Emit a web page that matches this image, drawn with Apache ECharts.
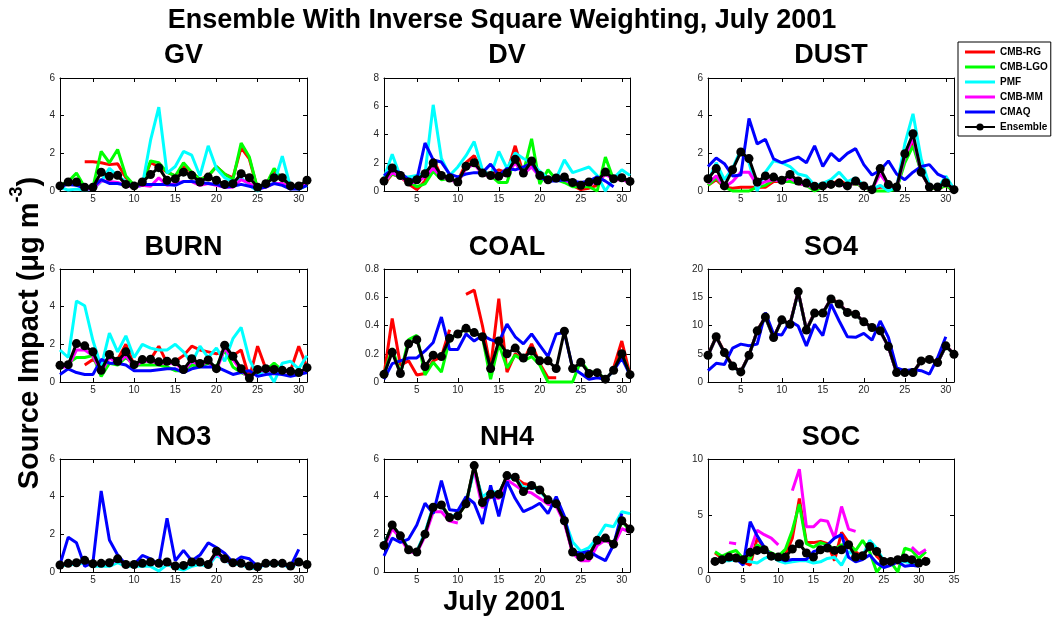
<!DOCTYPE html>
<html><head><meta charset="utf-8">
<script src="https://cdn.jsdelivr.net/npm/echarts@6/dist/echarts.min.js"></script>
<style>html,body{margin:0;padding:0;background:#fff}#c{width:1052px;height:617px}</style>
</head><body><div id="c"></div>
<script>
const FONT = '"Liberation Sans", Arial, Helvetica, sans-serif';
const days = [1,2,3,4,5,6,7,8,9,10,11,12,13,14,15,16,17,18,19,20,21,22,23,24,25,26,27,28,29,30,31];
const dayTicks = [5,10,15,20,25,30];

// ---- GV ----
const GV_RG   = [null,null,null,1.55,1.55,1.5,1.4,1.45,0.7,0.3,0.4,1.5,1.3,1.0,0.8,1.3,1.0,0.6,0.8,1.3,0.9,0.7,2.3,1.7,0.1,0.3,1.1,0.6,0.3,0.2,0.4];
const GV_LGO  = [0.3,0.5,0.95,0.2,0.2,2.1,1.5,2.2,0.8,0.3,0.4,1.6,1.5,1.0,0.8,1.5,1.0,0.6,0.8,1.3,0.9,0.6,2.55,1.8,0.1,0.3,1.2,0.6,0.3,0.2,0.4];
const GV_PMF  = [0.2,0.05,0.1,0.05,0.1,0.5,1.2,0.8,0.5,0.2,0.3,2.7,4.45,0.95,1.3,2.1,1.9,0.8,2.4,1.2,0.7,0.5,0.7,0.3,0.0,0.3,0.4,1.85,0.2,0.1,0.3];
const GV_MM   = [0.2,0.4,0.4,0.1,0.1,0.55,0.5,0.45,0.3,0.2,0.3,0.25,0.7,0.3,0.4,0.5,0.5,0.3,0.4,0.3,0.2,0.2,0.6,0.4,0.1,0.2,0.4,0.4,0.2,0.2,0.4];
const GV_CMAQ = [0.25,0.35,0.3,0.15,0.2,0.6,0.4,0.4,0.3,0.25,0.35,0.35,0.35,0.35,0.3,0.5,0.5,0.45,0.4,0.35,0.2,0.25,0.35,0.25,0.15,0.2,0.4,0.3,0.1,0.1,0.3];
const GV_ENS  = [0.27,0.48,0.48,0.2,0.2,1.0,0.78,0.83,0.35,0.27,0.48,0.87,1.24,0.57,0.65,1.0,0.83,0.48,0.74,0.57,0.35,0.39,0.92,0.71,0.2,0.39,0.71,0.71,0.27,0.27,0.57];

// ---- DV ----
const DV_RG   = [0.5,1.2,1.0,0.5,0.1,0.7,2.3,1.0,0.8,0.7,2.0,2.5,1.4,1.2,1.5,1.3,3.2,1.2,2.0,1.0,0.7,0.8,0.8,0.4,0.1,0.2,0.4,1.3,0.8,0.9,0.6];
const DV_LGO  = [0.6,1.2,1.0,0.7,0.3,0.5,1.4,0.8,0.9,0.6,1.6,2.2,1.1,1.1,0.6,0.6,2.4,1.3,3.7,0.5,1.5,0.8,0.6,0.3,0.3,0.3,0.0,2.4,0.8,0.9,0.6];
const DV_PMF  = [0.9,2.6,1.0,1.0,1.1,1.2,6.1,2.3,1.1,1.7,2.5,3.5,1.5,1.1,2.8,1.6,2.7,2.3,2.0,1.4,0.9,0.9,2.2,1.3,1.5,1.7,1.1,0.0,0.9,1.5,1.1];
const DV_MM   = [0.6,1.3,1.0,0.6,0.6,1.0,1.6,1.0,0.8,0.6,1.6,1.9,1.2,1.0,1.0,1.2,2.0,1.2,1.7,1.0,0.7,0.8,0.8,0.5,0.4,0.5,0.6,1.2,0.8,0.8,0.6];
const DV_CMAQ = [1.1,1.5,1.3,0.8,0.8,3.4,2.2,2.05,1.2,1.0,1.2,1.3,1.3,1.9,1.1,1.6,1.5,1.7,2.0,1.0,0.7,0.7,0.8,0.7,0.6,0.7,1.0,0.7,0.3,null,null];
const DV_ENS  = [0.7,1.63,1.1,0.64,0.8,1.23,1.98,1.1,0.92,0.64,1.75,2.0,1.27,1.1,1.04,1.27,2.24,1.27,2.12,1.1,0.8,0.92,0.99,0.6,0.4,0.64,0.7,1.34,0.87,0.94,0.68];

// ---- DUST ----
const DUST_RG   = [0.3,0.6,0.2,0.15,0.2,0.2,0.2,0.2,0.5,0.5,0.6,0.4,0.3,0.1,0.2,0.3,0.6,0.3,0.4,0.2,0.1,0.2,0.2,0.1,1.7,2.6,1.0,0.2,0.1,0.3,0.0];
const DUST_LGO  = [0.3,0.7,0.2,0.0,0.0,0.0,0.2,0.3,0.6,0.5,0.5,0.4,0.3,0.0,0.2,0.3,0.4,0.3,0.4,0.2,0.0,0.0,0.0,0.1,1.5,2.4,1.0,0.2,0.1,0.3,0.0];
const DUST_PMF  = [0.5,1.5,0.6,1.2,2.2,1.5,0.0,1.0,1.6,1.5,1.3,0.9,0.8,0.3,0.4,0.6,1.0,0.5,0.7,0.3,0.1,0.3,0.0,0.2,2.5,4.1,1.7,0.3,0.1,0.8,0.1];
const DUST_MM   = [0.4,0.8,0.2,0.5,1.0,1.0,0.3,0.5,0.6,0.5,0.7,0.4,0.3,0.2,0.2,0.3,0.4,0.2,0.5,0.2,0.1,0.9,0.3,0.2,1.8,2.8,1.0,0.2,0.2,0.4,0.1];
const DUST_CMAQ = [1.3,1.75,1.45,0.8,0.85,3.85,2.5,2.75,1.7,1.5,1.65,1.8,1.5,2.4,1.3,2.0,1.6,2.0,2.25,1.4,0.85,1.1,1.6,0.9,0.6,1.0,1.3,1.4,0.9,0.7,null];
const DUST_ENS  = [0.65,1.19,0.27,1.13,2.07,1.72,0.48,0.8,0.74,0.57,0.88,0.53,0.42,0.25,0.27,0.35,0.42,0.27,0.53,0.27,0.07,1.19,0.34,0.21,1.98,3.04,1.0,0.21,0.21,0.44,0.07];

// ---- BURN ----
const BURN_RG   = [null,null,null,0.9,1.2,0.8,1.3,1.2,2.0,0.9,1.2,1.2,1.9,1.0,1.1,1.4,1.9,1.7,1.6,1.5,1.6,1.4,1.7,0.2,1.9,0.7,0.8,0.6,0.6,1.9,0.8];
const BURN_LGO  = [0.7,1.0,1.3,1.3,1.4,0.3,1.0,0.9,1.3,0.9,0.9,0.9,0.9,0.8,0.6,0.6,0.9,0.8,1.0,0.8,1.7,0.8,0.5,0.3,0.5,0.6,1.0,0.6,0.6,0.5,0.5];
const BURN_PMF  = [1.7,1.3,4.3,4.05,2.2,0.8,2.6,1.6,2.45,1.3,2.0,1.8,1.7,1.7,2.0,1.6,1.0,1.9,1.3,1.8,1.1,2.3,2.9,1.2,0.3,0.7,0.0,1.0,1.1,0.7,1.4];
const BURN_MM   = [0.8,0.8,1.7,1.7,1.4,0.5,1.3,1.0,1.4,0.8,1.1,1.1,1.0,1.0,1.0,0.6,1.1,0.9,1.1,0.6,1.8,1.2,0.6,0.2,0.6,0.6,0.6,0.6,0.5,0.5,0.7];
const BURN_CMAQ = [0.4,0.7,0.5,0.4,0.4,1.2,1.0,1.0,0.9,0.6,0.6,0.6,0.65,0.7,0.7,0.5,0.7,0.8,0.8,0.8,0.6,0.4,0.5,0.6,0.3,0.4,0.45,0.4,0.3,0.4,0.5];
const BURN_ENS  = [0.89,0.92,2.04,1.92,1.6,0.62,1.46,1.1,1.6,0.92,1.19,1.21,1.07,1.1,1.07,0.66,1.24,0.98,1.17,0.71,1.95,1.37,0.71,0.21,0.67,0.71,0.67,0.62,0.57,0.5,0.76];

// ---- COAL ----
const COAL_RG   = [0.05,0.45,0.12,0.15,0.05,0.06,0.15,0.18,0.37,null,0.62,0.65,0.4,0.1,0.59,0.07,0.2,0.15,0.27,0.13,0.03,0.03,null,null,null,null,null,null,0.1,0.29,0.05];
const COAL_LGO  = [0.05,0.24,0.06,0.3,0.33,0.05,0.14,0.07,0.3,0.35,0.37,0.35,0.32,0.02,0.27,0.1,0.19,0.15,0.18,0.12,0.0,0.0,0.0,0.0,0.15,0.07,0.07,0.02,0.08,0.2,0.05];
const COAL_CMAQ = [0.02,0.13,0.15,0.17,0.17,0.22,0.28,0.46,0.23,0.23,0.34,0.29,0.33,0.3,0.28,0.41,0.32,0.27,0.34,0.26,0.18,0.34,0.35,0.1,0.06,0.02,0.03,0.02,0.08,0.17,0.05];
const COAL_ENS  = [0.054,0.21,0.06,0.27,0.3,0.11,0.19,0.18,0.31,0.34,0.38,0.35,0.32,0.095,0.29,0.2,0.24,0.17,0.22,0.15,0.15,0.095,0.36,0.095,0.14,0.06,0.066,0.02,0.083,0.2,0.052];

// ---- SO4 ----
const SO4_RG   = [4.8,8.1,5.3,2.9,1.8,4.8,9.1,11.6,7.9,11.0,10.3,16.0,9.3,12.3,12.2,14.8,13.9,12.4,12.0,10.7,9.6,9.1,6.3,1.7,1.7,1.7,3.8,4.0,3.5,6.5,5.0];
const SO4_LGO  = [4.7,7.9,5.2,2.8,1.8,4.7,9.0,11.4,7.8,10.9,10.2,15.9,9.2,12.1,12.1,14.6,13.7,12.2,11.9,10.6,9.6,9.0,6.2,1.6,1.6,1.6,3.7,3.9,3.4,6.3,4.9];
const SO4_PMF  = [4.7,8.0,5.1,2.8,1.7,4.7,9.0,11.5,7.9,11.0,10.2,15.9,9.2,12.2,12.2,14.7,13.8,12.3,12.0,10.6,9.6,9.0,6.3,1.7,1.6,1.7,3.7,4.0,3.4,6.4,4.9];
const SO4_MM   = [4.7,7.9,5.2,2.8,1.8,4.7,9.0,11.5,7.9,11.0,10.2,16.0,9.2,12.2,12.2,14.7,13.8,12.3,12.0,10.6,9.6,9.0,6.2,1.6,1.7,1.6,3.7,4.0,3.4,6.4,4.9];
const SO4_CMAQ = [2.0,3.3,3.1,6.0,6.7,6.4,6.7,12.3,8.5,8.3,10.8,9.9,6.4,10.2,8.2,13.8,10.8,8.0,7.9,8.6,7.4,10.8,7.9,2.5,2.0,2.2,2.0,1.4,4.3,8.0,null];
const SO4_ENS  = [4.73,8.0,5.2,2.84,1.78,4.73,9.05,11.5,7.87,11.0,10.2,16.0,9.2,12.2,12.2,14.7,13.8,12.3,12.0,10.65,9.64,9.05,6.27,1.66,1.66,1.66,3.73,4.0,3.43,6.4,4.9];

// ---- NO3 ----
const NO3_RG   = [0.35,0.45,0.5,0.6,0.45,0.45,0.5,0.7,0.4,0.4,0.45,0.5,0.45,0.5,0.3,0.35,0.55,0.5,0.4,1.1,0.7,0.5,0.45,0.3,0.3,0.45,0.45,0.45,0.3,0.5,0.4];
const NO3_LGO  = [0.35,0.45,0.5,0.6,0.45,0.45,0.5,0.65,0.4,0.4,0.45,0.5,0.45,0.5,0.3,0.35,0.5,0.5,0.4,1.05,0.7,0.5,0.45,0.3,0.3,0.45,0.45,0.45,0.3,0.5,0.4];
const NO3_PMF  = [0.3,0.4,0.4,0.5,0.3,0.3,0.3,0.5,0.3,0.3,0.3,0.3,0.05,0.4,0.2,0.1,0.3,0.4,0.3,0.9,0.6,0.4,0.4,0.2,0.2,0.4,0.4,0.4,0.2,0.5,0.4];
const NO3_MM   = [0.35,0.45,0.45,0.6,0.4,0.45,0.45,0.65,0.4,0.4,0.45,0.5,0.4,0.5,0.3,0.3,0.5,0.5,0.4,1.0,0.65,0.45,0.45,0.3,0.25,0.45,0.45,0.45,0.3,0.5,0.4];
const NO3_CMAQ = [0.4,1.85,1.55,0.3,0.5,4.3,1.7,0.9,0.4,0.4,0.88,0.7,0.4,2.85,0.6,1.15,0.6,0.9,1.55,1.3,1.0,0.5,0.8,0.7,0.3,0.4,0.55,0.4,0.3,1.2,null];
const NO3_ENS  = [0.37,0.46,0.49,0.62,0.44,0.46,0.49,0.7,0.4,0.4,0.46,0.53,0.46,0.53,0.32,0.35,0.53,0.53,0.4,1.1,0.7,0.49,0.46,0.32,0.28,0.46,0.46,0.46,0.32,0.53,0.4];

// ---- NH4 ----
const NH4_RG   = [1.4,2.5,1.9,1.2,1.1,2.0,3.4,3.6,2.9,3.0,3.6,5.6,3.8,4.1,4.1,5.1,5.0,4.7,4.6,4.4,3.8,3.6,2.7,1.0,0.8,0.9,1.7,1.8,1.5,2.7,2.3];
const NH4_LGO  = [1.4,2.5,1.9,1.2,1.1,2.0,3.4,3.6,2.9,3.0,3.6,5.6,3.7,4.1,4.1,5.1,5.0,4.3,4.6,4.4,3.8,3.6,2.7,1.1,0.8,0.9,1.7,1.8,1.5,2.7,2.2];
const NH4_PMF  = [1.5,2.4,2.0,1.2,1.1,2.1,3.5,3.5,2.9,3.1,3.7,5.4,4.0,4.3,4.2,5.0,5.0,4.5,4.5,4.3,3.8,3.6,2.8,1.6,1.1,1.3,1.8,2.5,2.4,3.2,3.1];
const NH4_MM   = [1.3,2.3,1.8,1.1,1.0,1.9,3.2,3.2,2.7,2.6,null,5.4,3.4,4.0,3.9,4.9,4.6,4.3,4.2,3.9,3.6,3.5,2.6,1.0,0.6,0.6,1.4,1.7,1.4,2.3,2.1];
const NH4_CMAQ = [0.86,1.8,1.57,1.75,2.5,3.65,3.1,4.85,3.3,3.25,4.0,3.65,2.55,4.6,2.95,4.8,3.9,3.2,3.4,3.65,3.1,4.0,2.95,1.1,1.0,1.1,0.83,0.6,1.45,3.1,null];
const NH4_ENS  = [1.41,2.5,1.92,1.18,1.06,2.01,3.44,3.56,2.89,2.98,3.62,5.65,3.69,4.13,4.13,5.12,5.03,4.27,4.59,4.36,3.83,3.62,2.72,1.06,0.79,0.86,1.68,1.8,1.48,2.72,2.28];

// ---- SOC ----
const SOC_RG   = [1.7,1.2,1.3,1.5,0.9,0.6,3.0,2.1,1.6,1.2,1.5,3.0,6.5,2.6,2.6,2.7,2.5,1.0,3.5,2.6,1.8,1.3,2.5,1.4,0.8,0.9,0.8,1.3,1.0,0.7,1.3];
const SOC_LGO  = [1.8,1.4,1.7,1.9,1.2,1.2,2.4,2.0,1.7,1.4,2.0,3.7,6.0,2.5,2.2,2.6,2.4,2.0,2.4,2.5,1.9,2.8,1.8,0.0,0.8,0.9,0.0,2.1,1.9,1.2,1.8];
const SOC_PMF  = [1.0,1.0,1.0,1.1,1.0,0.9,0.8,1.2,1.4,1.0,0.8,0.9,1.0,1.0,0.8,0.9,1.2,1.3,0.6,1.8,1.5,1.4,2.8,2.1,1.0,1.0,1.0,0.9,0.8,0.9,1.1];
const SOC_MM   = [null,null,2.6,2.5,null,1.9,3.7,3.3,3.0,2.4,null,7.2,9.1,4.0,4.0,4.6,4.5,3.0,5.8,3.8,3.6,null,null,null,null,null,null,null,2.2,1.6,2.0];
const SOC_CMAQ = [null,null,null,1.2,0.6,4.45,3.2,2.2,1.4,1.2,1.0,1.1,1.1,1.1,1.8,2.0,2.4,3.0,3.3,1.3,0.9,1.1,1.5,0.8,0.4,0.6,0.9,0.5,0.6,0.5,null];
const SOC_ENS  = [0.94,1.09,1.32,1.24,1.09,1.74,1.91,1.97,1.4,1.32,1.32,2.03,2.5,1.68,1.32,1.97,2.12,1.91,1.97,2.41,1.32,1.44,2.26,1.82,0.94,0.94,1.09,1.24,1.09,0.79,0.94];

const panelTitles = ['GV','DV','DUST','BURN','COAL','SO4','NO3','NH4','SOC'];
const yMaxes = [6,8,6,6,0.8,20,6,6,10];
const yIntervals = [2,2,2,2,0.2,5,2,2,5];

const panelData = [
  {RG:GV_RG, LGO:GV_LGO, PMF:GV_PMF, MM:GV_MM, CMAQ:GV_CMAQ, ENS:GV_ENS},
  {RG:DV_RG, LGO:DV_LGO, PMF:DV_PMF, MM:DV_MM, CMAQ:DV_CMAQ, ENS:DV_ENS},
  {RG:DUST_RG, LGO:DUST_LGO, PMF:DUST_PMF, MM:DUST_MM, CMAQ:DUST_CMAQ, ENS:DUST_ENS},
  {RG:BURN_RG, LGO:BURN_LGO, PMF:BURN_PMF, MM:BURN_MM, CMAQ:BURN_CMAQ, ENS:BURN_ENS},
  {RG:COAL_RG, LGO:COAL_LGO, CMAQ:COAL_CMAQ, ENS:COAL_ENS},
  {RG:SO4_RG, LGO:SO4_LGO, PMF:SO4_PMF, MM:SO4_MM, CMAQ:SO4_CMAQ, ENS:SO4_ENS},
  {RG:NO3_RG, LGO:NO3_LGO, PMF:NO3_PMF, MM:NO3_MM, CMAQ:NO3_CMAQ, ENS:NO3_ENS},
  {RG:NH4_RG, LGO:NH4_LGO, PMF:NH4_PMF, MM:NH4_MM, CMAQ:NH4_CMAQ, ENS:NH4_ENS},
  {RG:SOC_RG, LGO:SOC_LGO, PMF:SOC_PMF, MM:SOC_MM, CMAQ:SOC_CMAQ, ENS:SOC_ENS}
];

const seriesDefs = [
  {key:'RG',   name:'CMB-RG',   color:'#ff0000'},
  {key:'LGO',  name:'CMB-LGO',  color:'#00ff00'},
  {key:'PMF',  name:'PMF',      color:'#00ffff'},
  {key:'MM',   name:'CMB-MM',   color:'#ff00ff'},
  {key:'CMAQ', name:'CMAQ',     color:'#0000ff'},
  {key:'ENS',  name:'Ensemble', color:'#000000'}
];

const colLeft = [60, 384, 708];
const colW = [247, 246, 246];
const rowTop = [78, 269, 459];
const rowH = 113;
const titleOffset = [22.5, 21, 21];

const grids = [], xAxes = [], yAxes = [], series = [], graphics = [];
const tickColor = '#000';
const labelColor = '#262626';
const BIG = 'bold 27px ' + FONT;
const YLAB = 'bold 29px ' + FONT;

for (let g = 0; g < 9; g++) {
  const r = Math.floor(g / 3), c = g % 3;
  grids.push({left: colLeft[c], top: rowTop[r], width: colW[c], height: rowH, containLabel: false});
  const isSOC = g === 8;
  const xBase = {
    type: 'value', gridIndex: g,
    min: isSOC ? 0 : 1, max: isSOC ? 35 : 31,
    splitLine: {show: false},
    axisLine: {show: true, onZero: false, lineStyle: {color: tickColor, width: 1}},
    axisTick: {show: true, inside: true, length: 4, lineStyle: {color: tickColor, width: 1}},
    axisLabel: {show: true, fontSize: 10, color: labelColor, fontFamily: FONT, margin: 3}
  };
  if (isSOC) { xBase.interval = 5; }
  else { xBase.axisTick.customValues = dayTicks; xBase.axisLabel.customValues = dayTicks; }
  xAxes.push(Object.assign({}, xBase, {position: 'bottom'}));
  xAxes.push(Object.assign({}, xBase, {position: 'top',
    axisLabel: Object.assign({}, xBase.axisLabel, {show: false})}));
  const yBase = {
    type: 'value', gridIndex: g, min: 0, max: yMaxes[g], interval: yIntervals[g],
    splitLine: {show: false},
    axisLine: {show: true, onZero: false, lineStyle: {color: tickColor, width: 1}},
    axisTick: {show: true, inside: true, length: 4, lineStyle: {color: tickColor, width: 1}},
    axisLabel: {show: true, fontSize: 10, color: labelColor, fontFamily: FONT, margin: 5}
  };
  yAxes.push(Object.assign({}, yBase, {position: 'left'}));
  yAxes.push(Object.assign({}, yBase, {position: 'right', axisLabel: {show: false}}));

  const pd = panelData[g];
  seriesDefs.forEach((sd, k) => {
    const arr = pd[sd.key];
    if (!arr) return;
    const isEns = sd.key === 'ENS';
    series.push({
      type: 'line', name: sd.name,
      xAxisIndex: g * 2, yAxisIndex: g * 2,
      data: days.map((d, i) => [d, arr[i] == null ? '-' : arr[i]]),
      symbol: isEns ? 'circle' : 'none',
      symbolSize: 9,
      showSymbol: isEns,
      connectNulls: false,
      clip: false,
      animation: false,
      z: 2 + k,
      lineStyle: {color: sd.color, width: 3},
      itemStyle: {color: sd.color, borderWidth: 0}
    });
  });

  graphics.push({
    type: 'text',
    x: colLeft[c] + colW[c] / 2, y: rowTop[r] - titleOffset[r],
    style: {text: panelTitles[g], fill: '#000', font: BIG, align: 'center', verticalAlign: 'middle'}
  });
}

graphics.push({
  type: 'text', x: 502, y: 21,
  style: {text: 'Ensemble With Inverse Square Weighting, July 2001', fill: '#000', font: BIG, align: 'center', verticalAlign: 'middle'}
});
graphics.push({
  type: 'text', x: 504, y: 603,
  style: {text: 'July 2001', fill: '#000', font: BIG, align: 'center', verticalAlign: 'middle'}
});

// rotated y-axis label with superscript, laid out from measured text widths
const yLabelMain = 'Source Impact (\u03bcg m';
const yLabelSup = '-3';
const yLabelEnd = ')';
const mctx = document.createElement('canvas').getContext('2d');
function tw(t, f) { mctx.font = f; return mctx.measureText(t).width; }
const SUPF = 'bold 18px ' + FONT;
const wA = tw(yLabelMain, YLAB), wS = tw(yLabelSup, SUPF), wB = tw(yLabelEnd, YLAB);
const yCenter = 333;
const y0 = yCenter + (wA + wS + wB) / 2;
graphics.push({type: 'text', x: 30, y: y0, rotation: Math.PI / 2,
  style: {text: yLabelMain, fill: '#000', font: YLAB, align: 'left', verticalAlign: 'middle'}});
graphics.push({type: 'text', x: 17.5, y: y0 - wA, rotation: Math.PI / 2,
  style: {text: yLabelSup, fill: '#000', font: SUPF, align: 'left', verticalAlign: 'middle'}});
graphics.push({type: 'text', x: 30, y: y0 - wA - wS, rotation: Math.PI / 2,
  style: {text: yLabelEnd, fill: '#000', font: YLAB, align: 'left', verticalAlign: 'middle'}});

const option = {
  animation: false,
  backgroundColor: '#fff',
  grid: grids,
  xAxis: xAxes,
  yAxis: yAxes,
  series: series,
  graphic: graphics,
  legend: {
    orient: 'vertical', left: 958, top: 42,
    padding: [5, 3, 4, 6],
    itemWidth: 30, itemHeight: 9, itemGap: 5,
    borderColor: '#000', borderWidth: 1,
    textStyle: {fontSize: 10, fontWeight: 'bold', color: '#000', fontFamily: FONT},
    data: seriesDefs.map(s => s.key === 'ENS'
      ? {name: s.name}
      : {name: s.name, icon: 'path://M0,0h30v3h-30z'})
  }
};
const chart = echarts.init(document.getElementById('c'), null, {renderer: 'canvas'});
chart.setOption(option);
</script>
</body></html>
